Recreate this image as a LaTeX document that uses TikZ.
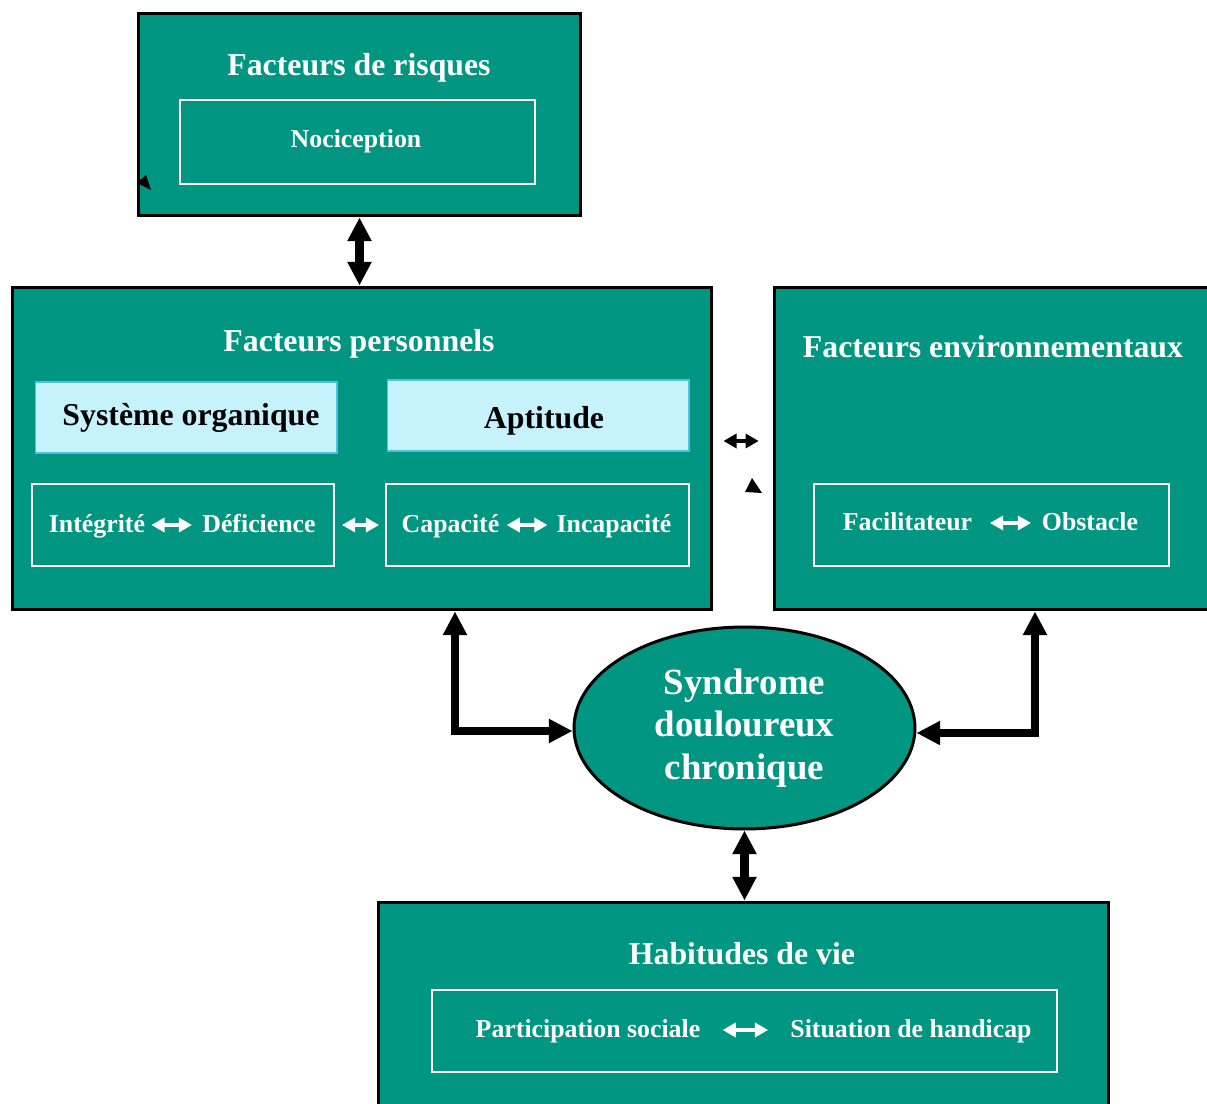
\documentclass[tikz,border=0pt]{standalone}
\usepackage{fontspec}
\setmainfont{Liberation Serif}
\usetikzlibrary{arrows.meta,positioning,shapes.geometric,calc}
\definecolor{boxgreen}{HTML}{009682}
\definecolor{cyanfill}{HTML}{C6F2FC}
\definecolor{cyanline}{HTML}{55BDE3}

\begin{document}
\begin{tikzpicture}[x=0.02cm, y=-0.02cm,
        bigbox/.style={draw=black, line width=1.7pt, fill=boxgreen, inner sep=0pt},
        innerbox/.style={draw=white, line width=1.1pt, inner sep=0pt},
        cyanbox/.style={draw=cyanline, line width=0.6pt, fill=cyanfill, inner sep=0pt},
        title/.style={text=white, inner sep=0pt, font=\bfseries\fontsize{18.1}{21}\selectfont},
        cyantext/.style={inner sep=0pt, font=\bfseries\fontsize{18.1}{21}\selectfont},
        word/.style={text=white, inner sep=0pt, text height=0.95em, text depth=0.15em, font=\bfseries\fontsize{14.7}{17}\selectfont},
        bigarr/.style={line width=4.6pt, {Triangle[length=13.5pt,width=13pt]}-{Triangle[length=13.5pt,width=13pt]}},
        smallarr/.style={line width=2.3pt, {Triangle[length=7.5pt,width=8pt]}-{Triangle[length=7.5pt,width=8pt]}}
    ]
    \useasboundingbox (0,0) rectangle (1207,1104);

    % risques
    \node[bigbox, minimum width=8.86cm, minimum height=4.06cm] (risques) at (359.5,114.5) {};
    \node[title] (risqtitle) at (359,68) {Facteurs de risques};
    \node[innerbox, minimum width=7.1cm, minimum height=1.68cm] (nocicep) at (357.5,142) {};
    \node[word] at (356,140) {Nociception};

    % personnels
    \node[bigbox, minimum width=14cm, minimum height=6.46cm] (perso) at (362,448.5) {};
    \node[title] (persotitle) at (359,344) {Facteurs personnels};
    \node[cyanbox, minimum width=6.04cm, minimum height=1.42cm] (organ) at (186,417.5) {};
    \node[cyantext] at (191,418) {Système organique};
    \node[cyanbox, minimum width=6.04cm, minimum height=1.42cm] (aptit) at (538,415.5) {};
    \node[cyantext] at (544,421) {Aptitude};

    \node[innerbox, minimum width=6.04cm, minimum height=1.64cm] (integbox) at (183,525) {};
    \node[word] (integ) at (97,525) {Intégrité};
    \node[word] (defic) at (259,525) {Déficience};
    \node[innerbox, minimum width=6.06cm, minimum height=1.64cm] (capacbox) at (537.5,525) {};
    \node[word] (capac) at (450.5,525) {Capacité};
    \node[word] (incap) at (614,525) {Incapacité};

    % environnementaux
    \node[bigbox, minimum width=8.82cm, minimum height=6.46cm] (enviro) at (994.5,448.5) {};
    \node[title] (envtitle) at (993,347) {Facteurs environnementaux};
    \node[innerbox, minimum width=7.1cm, minimum height=1.64cm] (facilbox) at (991.5,525) {};
    \node[word] (facil) at (907.5,523) {Facilitateur};
    \node[word] (obstac) at (1090,523) {Obstacle};

    % syndrome
    \node[bigbox, ellipse, minimum width=6.82cm, minimum height=4.04cm, align=center, text=white,
        font=\bfseries\fontsize{21}{24.4}\selectfont] (syndrome) at (744.5,728) {Syndrome\\douloureux\\chronique};

    % habitudes
    \node[bigbox, minimum width=14.62cm, minimum height=4.2cm] (habit) at (743.5,1007) {};
    \node[title] (habtitle) at (742,954) {Habitudes de vie};
    \node[innerbox, minimum width=12.5cm, minimum height=1.64cm] (particbox) at (744.5,1031) {};
    \node[word] (partic) at (588,1030) {Participation sociale};
    \node[word] (situat) at (911,1030) {Situation de handicap};

    % fleches dans les textes
    \draw[smallarr, white, shorten <=3.4pt, shorten >=5.7pt] (integ) -- (defic);
    \draw[smallarr, white, shorten <=4pt, shorten >=5pt] (capac) -- (incap);
    \draw[smallarr, white, shorten <=10pt, shorten >=6pt] (facil) -- (obstac);
    \draw[smallarr, white, shorten <=12.5pt, shorten >=12.5pt] (partic) -- (situat);
    \draw[smallarr, white, shorten <=4pt, shorten >=3.4pt] (integbox) -- (capacbox);

    \coordinate (midlink) at (743,441);
    \draw[smallarr, black, shorten <=5.7pt, shorten >=7.9pt] (perso.east |- midlink) -- (enviro.west |- midlink);

    % grosses fleches
    \draw[bigarr] (risques.south) -- (risques.south |- perso.north);
    \draw[bigarr] ([xshift=1.86cm]perso.south) |- ([yshift=-0.06cm]syndrome.west);
    \draw[bigarr] ([xshift=0.81cm]enviro.south) |- ([yshift=-0.1cm]syndrome.east);
    \draw[bigarr] (syndrome.south) -- (syndrome.south |- habit.north);

    % petits triangles
    \fill (137,183) -- (146,175) -- (151,190) -- cycle;
    \fill (745,492) -- (752,478) -- (762,493) -- cycle;
\end{tikzpicture}
\end{document}
